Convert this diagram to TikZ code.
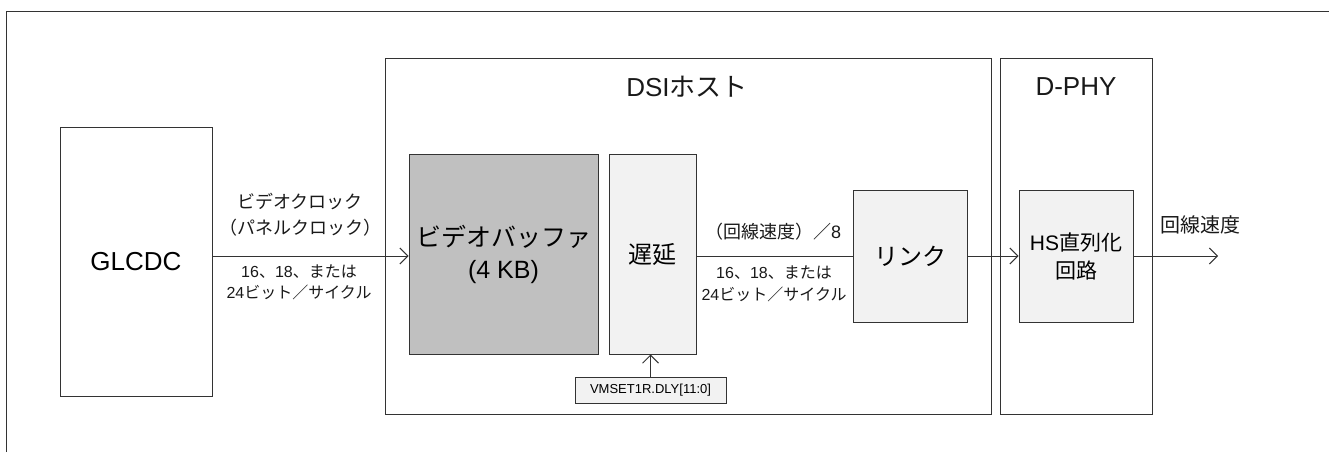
\documentclass[tikz,border=0pt]{standalone}
\usepackage{fontspec}
\setmainfont{Liberation Sans}
\newfontfamily\jp{Noto Sans CJK JP}
\usetikzlibrary{arrows.meta,positioning}
\definecolor{edge}{HTML}{333333}
\definecolor{darkfill}{HTML}{C0C0C0}
\definecolor{lightfill}{HTML}{F2F2F2}
\tikzset{
  wire/.style={draw=edge, line width=1pt},
  arr/.style={wire, -{Straight Barb[length=8pt,width=16pt,line width=1pt]}},
  block/.style={draw=edge, line width=1pt, inner sep=0pt, align=center},
  lbl/.style={inner sep=0pt, align=center, text=black!90}
}
\begin{document}
\begin{tikzpicture}[x=1pt,y=-1pt]
  \useasboundingbox (0,0) rectangle (1329,452);
  % outer frame, open to the right and bottom
  \draw[wire] (6,452) -- (6,12) -- (1329,12);
  % groups
  \node[block, minimum width=606pt, minimum height=355pt] (dsi) at (688,236.5) {};
  \node[block, minimum width=152pt, minimum height=355pt] (dphy) at (1076,236.5) {};
  \node[lbl, font=\fontsize{26}{30}\selectfont] (dsititle) at (687,87) {DSI{\jp ホスト}};
  \node[lbl, font=\fontsize{26}{30}\selectfont] (dphytitle) at (1076,87) {D-PHY};
  % blocks
  \node[block, minimum width=152pt, minimum height=269pt, font=\fontsize{26}{30}\selectfont] (glcdc) at (136,261.5) {GLCDC};
  \node[block, fill=darkfill, minimum width=189pt, minimum height=200pt, font=\fontsize{25}{32}\selectfont] (buf) at (503.5,254) {{\jp ビデオバッファ}\\(4 KB)};
  \node[block, fill=lightfill, minimum width=87pt, minimum height=200pt, font=\jp\fontsize{24}{30}\selectfont] (delay) at (652.5,254) {遅延};
  \node[block, fill=lightfill, minimum width=114pt, minimum height=132pt, font=\jp\fontsize{24}{30}\selectfont] (link) at (910,256) {リンク};
  \node[block, fill=lightfill, minimum width=114pt, minimum height=132pt, font=\fontsize{21}{28}\selectfont] (hs) at (1076,256) {HS{\jp 直列化}\\{\jp 回路}};
  \node[block, fill=lightfill, minimum width=151pt, minimum height=26pt, font=\fontsize{13}{16}\selectfont] (vmset) at (650.5,390) {VMSET1R.DLY[11:0]};
  \coordinate (out) at (1218,256);
  % connectors
  \draw[arr] (glcdc.east |- link) -- (buf.west |- link);
  \draw[wire] (delay.east |- link) -- (link.west);
  \draw[arr] (link.east) -- (hs.west);
  \draw[arr] (hs.east) -- (out);
  \draw[arr] (vmset.north) -- (vmset.north |- delay.south);
  % signal labels
  \node[lbl, font=\jp\fontsize{18}{26}\selectfont] (clk) at (300,215) {ビデオクロック\\（パネルクロック）};
  \node[lbl, font=\fontsize{16}{21}\selectfont] (bits1) at (299,282.5) {16{\jp 、}18{\jp 、または}\\24{\jp ビット／サイクル}};
  \node[lbl, font=\fontsize{18}{22}\selectfont] (rate8) at (773,232) {{\jp （回線速度）／}8};
  \node[lbl, font=\fontsize{16}{22}\selectfont] (bits2) at (774,284) {16{\jp 、}18{\jp 、または}\\24{\jp ビット／サイクル}};
  \node[lbl, font=\jp\fontsize{20}{24}\selectfont] (rate) at (1200,225) {回線速度};
\end{tikzpicture}
\end{document}
